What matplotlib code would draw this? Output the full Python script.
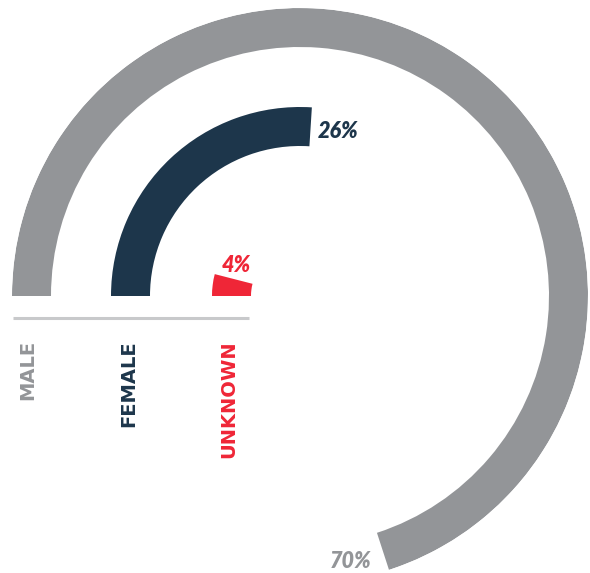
import numpy as np
import matplotlib
matplotlib.use("Agg")
import matplotlib.pyplot as plt

categories = ["MALE", "FEMALE", "UNKNOWN"]
values = [70, 26, 4]          # percent of a full circle
pct_labels = ["70%", "26%", "4%"]
colors = ["#939598", "#1D364B", "#EF2637"]

W, H = 590, 573
fig = plt.figure(figsize=(W / 100, H / 100), dpi=100)

# polar axes: centre at pixel (300, 296), radius 288 px
cx, cy, R = 300, 296, 288
ax = fig.add_axes([(cx - R) / W, (H - cy - R) / H, 2 * R / W, 2 * R / H], projection="polar")
ax.set_theta_zero_location("W")
ax.set_theta_direction(-1)
ax.set_ylim(0, R)
ax.axis("off")

outer = [288, 189, 88]
thick = 39
for v, ro, c in zip(values, outer, colors):
    span = 2 * np.pi * v / 100
    ax.bar(span / 2, thick, width=span, bottom=ro - thick, color=c, linewidth=0, align="center")

# overlay for line and text, pixel coordinates
ov = fig.add_axes([0, 0, 1, 1])
ov.set_xlim(0, W)
ov.set_ylim(H, 0)
ov.axis("off")
ov.plot([13, 249], [318, 318], color="#C8C9CB", lw=2.2, solid_capstyle="butt")

label_x = [28, 129, 229]
for name, x, c in zip(categories, label_x, colors):
    ov.text(x, 340, name, rotation=90, ha="center", va="top", color=c,
            fontsize=14, fontweight="bold", family="DejaVu Sans")

pct_pos = [(330, 562), (318, 131), (222, 265)]
for lab, (x, y), c in zip(pct_labels, pct_pos, colors):
    ov.text(x, y, lab, ha="left", va="center", color=c, fontsize=15.5,
            fontweight="heavy", style="italic", family="Lato")

fig.savefig("out.png", dpi=100)
